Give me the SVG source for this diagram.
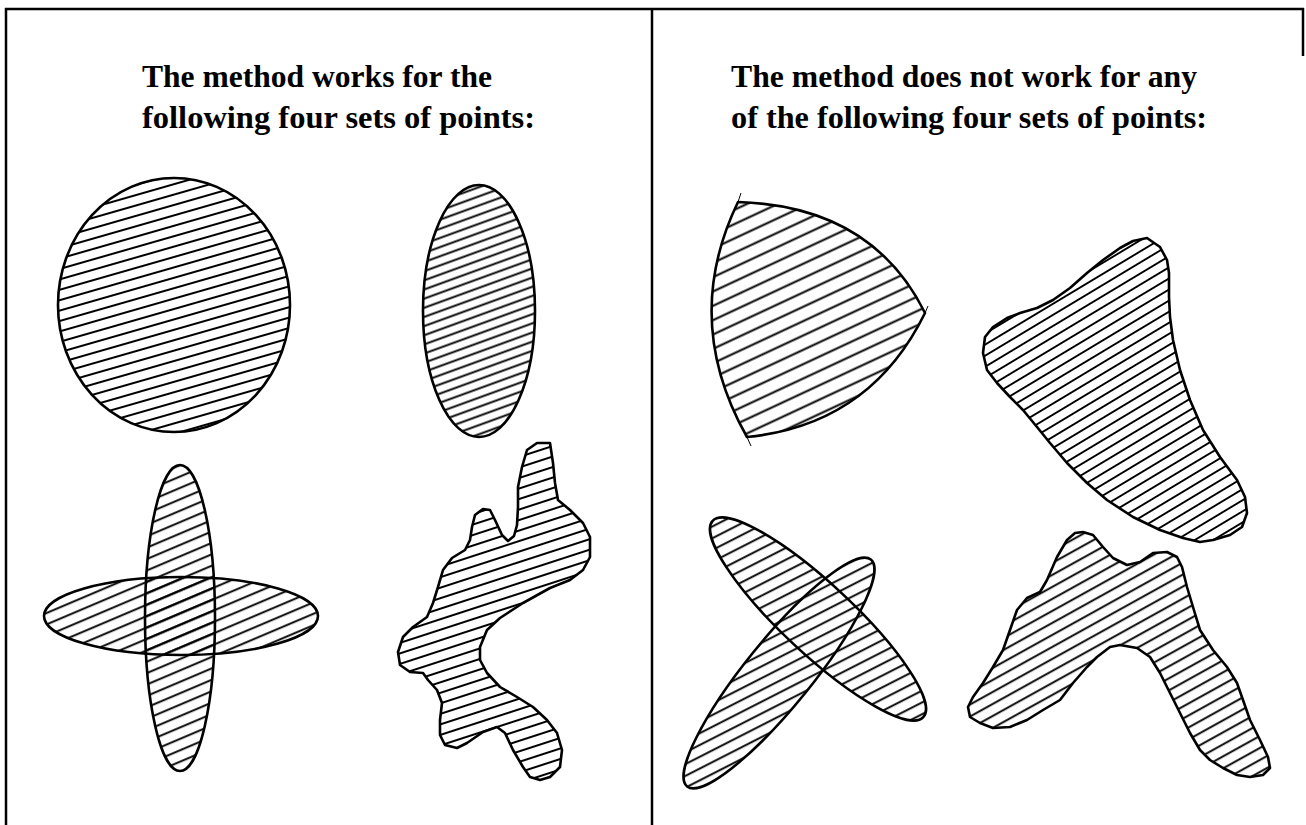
<svg xmlns="http://www.w3.org/2000/svg" width="1306" height="825" viewBox="0 0 1306 825">
<defs>
<style>
.frame{stroke:#000;stroke-width:2.5;fill:none}
.out{stroke:#000;stroke-width:2.6;stroke-linejoin:round;stroke-linecap:round}
.none{fill:none}
.tx{font-family:"Liberation Serif","Times New Roman",serif;font-weight:bold;font-size:32px;fill:#000}
.tick{stroke:#000;stroke-width:1;fill:none}
</style>
<pattern id="hCircle" patternUnits="userSpaceOnUse" width="40" height="10" patternTransform="rotate(-16)"><line x1="0" y1="5" x2="40" y2="5" stroke="#000" stroke-width="1.9"/></pattern>
<pattern id="hEll" patternUnits="userSpaceOnUse" width="40" height="8.6" patternTransform="rotate(-20)"><line x1="0" y1="4.3" x2="40" y2="4.3" stroke="#000" stroke-width="1.9"/></pattern>
<pattern id="hCross" patternUnits="userSpaceOnUse" width="40" height="10.5" patternTransform="rotate(-23)"><line x1="0" y1="5" x2="40" y2="5" stroke="#000" stroke-width="1.8"/></pattern>
<pattern id="hBlobL" patternUnits="userSpaceOnUse" width="40" height="10" patternTransform="rotate(-18)"><line x1="0" y1="5" x2="40" y2="5" stroke="#000" stroke-width="2"/></pattern>
<pattern id="hReul" patternUnits="userSpaceOnUse" width="40" height="13" patternTransform="rotate(-25)"><line x1="0" y1="6.5" x2="40" y2="6.5" stroke="#000" stroke-width="1.9"/></pattern>
<pattern id="hBlobRT" patternUnits="userSpaceOnUse" width="40" height="9.5" patternTransform="rotate(-31)"><line x1="0" y1="4.7" x2="40" y2="4.7" stroke="#000" stroke-width="1.8"/></pattern>
<pattern id="hX" patternUnits="userSpaceOnUse" width="40" height="10.5" patternTransform="rotate(-27)"><line x1="0" y1="5" x2="40" y2="5" stroke="#000" stroke-width="1.9"/></pattern>
<pattern id="hBlobRB" patternUnits="userSpaceOnUse" width="40" height="10.5" patternTransform="rotate(-29)"><line x1="0" y1="5" x2="40" y2="5" stroke="#000" stroke-width="1.9"/></pattern>
<clipPath id="clipX">
<ellipse cx="818" cy="619" rx="144" ry="35" transform="rotate(43 818 619)"/>
<ellipse cx="779" cy="673" rx="146" ry="33" transform="rotate(-51 779 673)"/>
</clipPath>
</defs>
<rect width="1306" height="825" fill="#fff"/>
<g id="frame">
<line class="frame" x1="5" y1="9" x2="1304" y2="9"/>
<line class="frame" x1="6" y1="8" x2="6" y2="825"/>
<line class="frame" x1="652" y1="8" x2="652" y2="825"/>
<line class="frame" x1="1303" y1="8" x2="1303" y2="56"/>
</g>
<g id="text-left">
<text class="tx" x="142" y="87" textLength="350" lengthAdjust="spacingAndGlyphs">The method works for the</text>
<text class="tx" x="142" y="128" textLength="393" lengthAdjust="spacingAndGlyphs">following four sets of points:</text>
</g>
<g id="text-right">
<text class="tx" x="731" y="87" textLength="466" lengthAdjust="spacingAndGlyphs">The method does not work for any</text>
<text class="tx" x="731" y="128" textLength="476" lengthAdjust="spacingAndGlyphs">of the following four sets of points:</text>
</g>
<g id="circle">
<ellipse class="out" cx="174" cy="305" rx="116" ry="127" fill="url(#hCircle)"/>
</g>
<g id="ellipse">
<ellipse class="out" cx="479" cy="311" rx="56" ry="126" fill="url(#hEll)"/>
</g>
<g id="cross">
<ellipse cx="180" cy="618" rx="35" ry="153" fill="url(#hCross)"/>
<ellipse cx="181" cy="616" rx="137" ry="39" fill="url(#hCross)"/>
<ellipse class="out none" cx="180" cy="618" rx="35" ry="153"/>
<ellipse class="out none" cx="181" cy="616" rx="137" ry="39"/>
</g>
<g id="blob-left">
<path class="out" fill="url(#hBlobL)" d="M527,450 L537,443 L550,443 L553,463 L555,483 L558,500 L570,510 L583,523 L590,537 L590,557 L583,570 L570,580 L550,588 L523,603 L500,618 L487,630 L480,647 L480,660 L487,673 L500,687 L517,697 L533,707 L547,720 L557,733 L562,750 L560,767 L550,777 L540,780 L530,777 L523,767 L513,750 L505,733 L497,727 L483,732 L467,743 L457,748 L445,745 L440,735 L440,720 L442,703 L437,690 L428,680 L423,673 L410,672 L400,665 L398,652 L403,637 L413,627 L427,617 L433,603 L438,587 L443,570 L452,558 L465,550 L470,540 L472,527 L475,515 L483,509 L490,510 L495,520 L502,535 L508,541 L514,536 L517,525 L518,507 L518,487 L522,467 Z"/>
</g>
<g id="reuleaux">
<path class="out" fill="url(#hReul)" d="M738,202 Q872,206 925,313 Q870,425 747,437 Q681,320 738,202 Z"/>
<path class="tick" d="M738,202 L741,193 M925,313 L928,306 M747,437 L751,446"/>
</g>
<g id="blob-right-top">
<path class="out" fill="url(#hBlobRT)" d="M1147,238 L1160,247 L1167,260 L1169,273 L1169,297 L1170,317 L1173,340 L1180,370 L1190,400 L1203,430 L1220,457 L1237,480 L1245,497 L1247,513 L1242,527 L1230,535 L1213,540 L1200,542 L1183,538 L1160,530 L1133,517 L1107,500 L1087,483 L1067,463 L1050,443 L1037,427 L1023,410 L1010,397 L997,383 L987,370 L983,353 L985,337 L993,327 L1007,318 L1020,313 L1037,308 L1053,300 L1070,288 L1087,273 L1103,260 L1120,248 L1133,241 Z"/>
</g>
<g id="crossed-ellipses">
<rect x="670" y="500" width="280" height="310" fill="url(#hX)" clip-path="url(#clipX)"/>
<ellipse class="out none" cx="818" cy="619" rx="144" ry="35" transform="rotate(43 818 619)"/>
<ellipse class="out none" cx="779" cy="673" rx="146" ry="33" transform="rotate(-51 779 673)"/>
</g>
<g id="blob-right-bottom">
<path class="out" fill="url(#hBlobRB)" d="M1083,532 L1093,535 L1103,547 L1113,558 L1127,565 L1140,562 L1153,553 L1167,552 L1177,557 L1182,567 L1187,587 L1193,607 L1200,630 L1213,650 L1227,667 L1237,683 L1243,700 L1250,720 L1260,740 L1268,757 L1270,768 L1263,775 L1250,777 L1237,775 L1223,768 L1210,760 L1200,750 L1190,733 L1180,713 L1170,693 L1160,673 L1150,657 L1137,648 L1120,645 L1110,647 L1097,657 L1087,667 L1073,683 L1060,700 L1043,710 L1027,720 L1010,727 L993,728 L980,723 L970,717 L968,707 L973,697 L983,683 L993,667 L1003,650 L1010,630 L1017,610 L1027,598 L1040,592 L1047,580 L1057,557 L1067,540 L1075,533 Z"/>
</g>
</svg>
